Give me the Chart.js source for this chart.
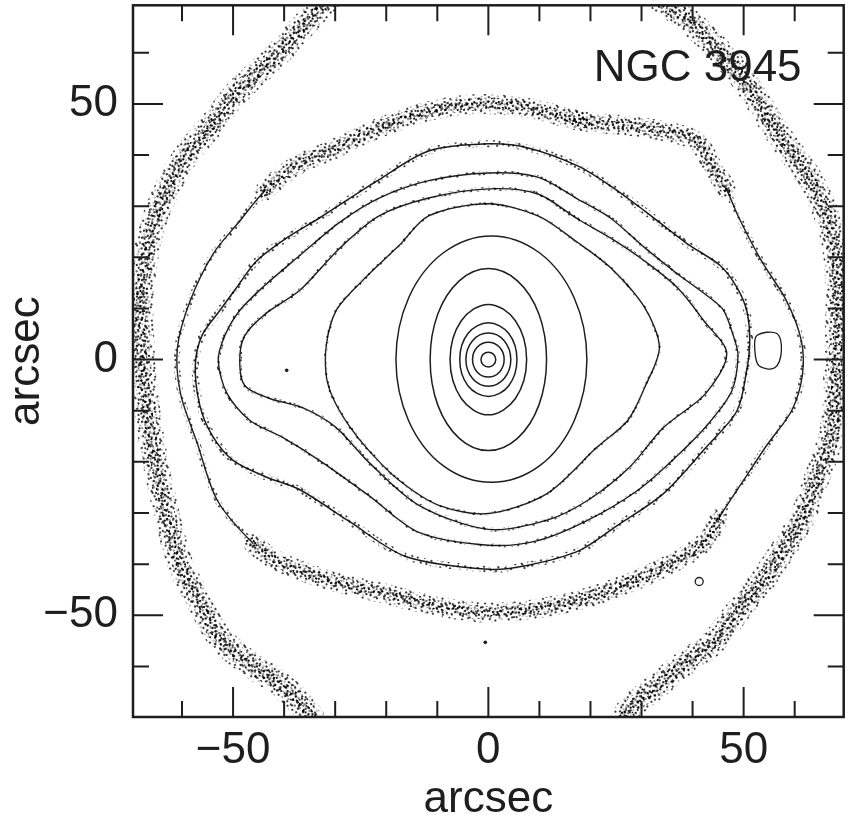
<!DOCTYPE html>
<html lang="en">
<head>
  <meta charset="UTF-8" />
  <title>NGC 3945 isophotes</title>
  <style>
    html, body { margin: 0; padding: 0; background: #fff; }
    canvas { display: block; }
  </style>
</head>
<body>
  <canvas id="isoChart" width="849" height="819"></canvas>

  <script src="https://cdn.jsdelivr.net/npm/chart.js"></script>
  <script>
    // axes, arcsec
    const xRange = [-69.6, 69.6];
    const yRange = [-69.9, 69.3];
    const labelTicks = [-50, 0, 50];
    const minorTicks = [-60, -40, -30, -20, -10, 10, 20, 30, 40, 60];

    // isophotes, [x, y] in arcsec, outer to inner
    const ringOuterLeft = [[-31, 71], [-36.5, 65], [-41.5, 59.5], [-48.5, 53], [-54.5, 45.5], [-59.5, 39.5], [-64, 31], [-66.2, 24.6], [-67.5, 18], [-68.1, 11.5], [-67.8, 0], [-66.8, -10], [-65.2, -20], [-62.8, -31], [-60.3, -40], [-56.5, -47.5], [-52.5, -54.5], [-46.7, -59.5], [-40.8, -63.5], [-36.5, -67.5], [-34, -71]];
    const ringOuterRight = [[33.1, 71], [40.9, 64.8], [46.5, 59], [50.6, 53.9], [56.8, 44.1], [63.5, 34.4], [67.4, 24.6], [68.5, 15.4], [68.5, 5.7], [68.1, -4.1], [67.4, -13.9], [64.2, -23.6], [61.3, -31.3], [57.4, -37.7], [52.9, -44.3], [48.7, -49.4], [44, -55.3], [38.7, -59.2], [32.9, -63.9], [27.6, -68.4], [26, -71]];
    const ringInner = [[17.5, 46.8], [7.8, 49.2], [-1.9, 50], [-11.7, 48.6], [-21.4, 45.3], [-31.1, 40.8], [-37, 38.3], [-43.8, 33], [-48.7, 27.1], [-53.9, 20.7], [-58.4, 11.5], [-60.9, 2.3], [-60.3, -6.6], [-57, -16.4], [-53.1, -27.5], [-46.1, -35.9], [-40.9, -39.6], [-31.1, -43.2], [-21.4, -45.5], [-11.7, -47.9], [-1.9, -49.4], [7.8, -49], [17.5, -47.1], [27.3, -43.8], [37, -39.3], [42.8, -35.4], [45.2, -30.9], [50.4, -23], [54.5, -16.8], [59.4, -10], [61.5, -3.1], [61.3, 3.7], [58.4, 11.5], [53.5, 19.3], [49.1, 27.7], [46.5, 33.6], [44, 37.5], [40.7, 42.8], [31, 45.3], [21.2, 46.3]];
    const bar1 = [[0, 42.2], [7.8, 41.4], [17.5, 37.9], [23.9, 34], [30.6, 29.1], [38.9, 22.7], [45.4, 18.4], [48.7, 14.1], [50.6, 9.6], [51.2, 3.7], [50.6, -2.1], [48.7, -10], [42.6, -17.2], [34.3, -26.2], [25.3, -32.4], [17.9, -37.3], [7.8, -40.2], [0, -41], [-16.2, -38.5], [-27.3, -31.6], [-37, -25.4], [-43.4, -23], [-50, -19.7], [-54.1, -14.8], [-56.5, -9], [-57.4, -1.2], [-56.1, 4.7], [-52.6, 9.6], [-49.3, 14.1], [-45.4, 19.3], [-39.5, 23.8], [-33.1, 27.7], [-21.4, 35.2], [-11.7, 40.8]];
    const bar2 = [[0, 36.5], [9.7, 35.7], [17.5, 31.4], [23.9, 27.7], [30.6, 21.9], [37, 16.8], [43.4, 12.1], [46.1, 9.6], [48.1, 4.3], [48.9, 0.8], [47.7, -6.1], [42.8, -12.9], [37, -18.8], [29.2, -25.6], [19.5, -31.4], [9.7, -35.4], [0, -36.3], [-13.6, -33.8], [-23.4, -26.6], [-33.1, -19.7], [-40.3, -15.2], [-46.7, -11.9], [-51.2, -6.6], [-52.9, -0.2], [-51.6, 4.7], [-48.7, 9.6], [-43.8, 14.5], [-37, 20.3], [-29.2, 26.8], [-21.4, 31.6], [-11.7, 35]];
    const bar3 = [[0, 33.4], [9.7, 32.4], [17.5, 27.5], [23.9, 23.8], [30.6, 19.3], [37, 14.1], [42.2, 7.6], [46.7, 1.2], [42.6, -6.6], [34.3, -13.3], [27.6, -21.1], [19.5, -27.5], [11.5, -31.4], [0, -33.2], [-13.6, -28.5], [-23.4, -20.1], [-29.8, -13.3], [-36.4, -9.4], [-42.8, -7.6], [-47.7, -5.1], [-48.7, -0.2], [-47.7, 4.7], [-43.6, 9], [-37, 13.5], [-29.2, 21.7], [-21.4, 28.1], [-11.7, 31.6]];
    const lens = [[0, 30.5], [9.7, 28.1], [17.5, 22.9], [23.9, 18], [30.6, 10.2], [33.5, 2.3], [30.6, -5.5], [27.3, -11.9], [21.2, -17.2], [11.5, -26.2], [0, -30.1], [-9.7, -28.5], [-17.5, -23.6], [-23.4, -17.8], [-27.3, -12.9], [-30.2, -8], [-31.7, -3.5], [-31.7, 3.1], [-29.8, 9.6], [-24.7, 15.4], [-17.5, 22.3], [-11.7, 28.1]];
    const bulge7 = [[19.3, 0], [16.8, 12.1], [10, 20.9], [0.6, 24.2], [-8.8, 20.9], [-15.6, 12.1], [-18.1, 0], [-15.6, -12], [-8.8, -20.8], [0.6, -24], [10, -20.8], [16.8, -12]];
    const bulge6 = [[11.4, 0], [9.9, 8.9], [5.7, 15.4], [0, 17.8], [-5.7, 15.4], [-9.9, 8.9], [-11.4, 0], [-9.9, -8.9], [-5.7, -15.4], [0, -17.8], [5.7, -15.4], [9.9, -8.9]];
    const bulge5 = [[7.5, 0], [5.3, 7.6], [0, 10.8], [-5.3, 7.6], [-7.5, 0], [-5.3, -7.6], [0, -10.8], [5.3, -7.6]];
    const bulge4 = [[5.6, 0], [4, 5.1], [0, 7.2], [-4, 5.1], [-5.6, 0], [-4, -5.1], [0, -7.2], [4, -5.1]];
    const bulge3 = [[4.4, 0], [3.1, 3.7], [0, 5.2], [-3.1, 3.7], [-4.4, 0], [-3.1, -3.7], [0, -5.2], [3.1, -3.7]];
    const bulge2 = [[3.1, 0], [2.2, 2.4], [0, 3.4], [-2.2, 2.4], [-3.1, 0], [-2.2, -2.4], [0, -3.4], [2.2, -2.4]];
    const bulge1 = [[1.45, 0], [1.03, 1.02], [0, 1.45], [-1.03, 1.02], [-1.45, 0], [-1.03, -1.02], [0, -1.45], [1.03, -1.02]];
    const rightKnot = [[52.6, 4.7], [56.5, 5.1], [57.4, 1.8], [56.1, -1.6], [53, -1.2], [52.2, 1.8]];
    const looseDots = [[-0.6, -55.3], [-39.5, -2.1]];
    const tinyRing = [[41.3, -43.4]];

    const ink = '#1e1e1e';
    const clear = 'rgba(0,0,0,0)';
    const fontFamily = '"Liberation Sans", Arial, sans-serif';

    // grainy texture for the noisy outer isophotes
    const speckle = [
      '#...+.....#..+....#.',
      '..#....#.......#....',
      '.....+....+..#....+.',
      '.+.#.....#.........#',
      '#.......#....+.#....',
      '....#.+.....#.......',
      '..+.......#....+..#.',
      '.#....#.+......#....',
      '.....#.....#.+....+.',
      '#..+.......#.....#..',
      '...#...+.#.....#....',
      '.+.....#......+...#.',
      '....+#.....+.#......',
      '#.........#....#.+..',
      '..#.+..#.......#....',
      '.....#....+.#.....#.',
      '.#.+...........+..#.',
      '...#..#.+..#........'
    ];
    function makePattern(rows, dark, light, cell, turn) {
      const c = document.createElement('canvas');
      c.width = rows[0].length * cell;
      c.height = rows.length * cell;
      const g = c.getContext('2d');
      rows.forEach((row, j) => {
        [...row].forEach((ch, i) => {
          if (ch === '.') return;
          const col = ch === '#' ? dark : light;
          if (col === clear) return;
          g.fillStyle = col;
          g.fillRect(i * cell, j * cell, cell, cell);
        });
      });
      const p = g.createPattern(c, 'repeat');
      if (turn && p.setTransform) p.setTransform(new DOMMatrix().rotate(turn));
      return p;
    }
    const grainDense = makePattern(speckle, 'rgba(0,0,0,0.95)', 'rgba(0,0,0,0.6)', 2, 23);
    const grainDense2 = makePattern(speckle, 'rgba(0,0,0,0.85)', 'rgba(0,0,0,0.45)', 2, 71);
    const grainSparse = makePattern(speckle, 'rgba(0,0,0,0.75)', 'rgba(0,0,0,0.25)', 2, -31);

    const toPts = pts => pts.map(([x, y]) => ({ x, y }));
    // closed curve: wrap the ends so the spline is smooth all round, then hide the extra pieces
    const wrap = pts => toPts([pts[pts.length - 1], ...pts, pts[0], pts[1]]);

    function hideEnds(extra) {
      return c => {
        const d = c.chart.data.datasets[c.datasetIndex].data;
        if (c.p0DataIndex === 0 || c.p1DataIndex === d.length - 1) return clear;
        return extra ? extra(c, d) : undefined;
      };
    }
    const isFarRow = (c, d) => Math.abs(d[c.p0DataIndex].y) > 30 && Math.abs(d[c.p1DataIndex].y) > 30;
    const bandRows = (c, d) => (isFarRow(c, d) ? undefined : clear);
    const sideRows = (c, d) => (isFarRow(c, d) ? clear : undefined);

    function loopSet(pts, color, width, tension, extra) {
      return {
        data: wrap(pts), showLine: true, pointRadius: 0, borderColor: color,
        borderWidth: width, tension: tension, clip: 0,
        borderJoinStyle: 'round', borderCapStyle: 'round',
        segment: { borderColor: hideEnds(extra) }
      };
    }
    function arcSet(pts, color, width) {
      return {
        data: toPts(pts), showLine: true, pointRadius: 0, borderColor: color,
        borderWidth: width, tension: 0.35, clip: 0, borderJoinStyle: 'round'
      };
    }

    const datasets = [
      // outer ring
      arcSet(ringOuterLeft, grainSparse, 26),
      arcSet(ringOuterRight, grainSparse, 26),
      arcSet(ringOuterLeft, grainDense2, 17),
      arcSet(ringOuterRight, grainDense2, 17),
      arcSet(ringOuterLeft, grainDense, 10),
      arcSet(ringOuterRight, grainDense, 10),
      // inner ring: grainy band on top and bottom, a line on the sides
      loopSet(ringInner, grainSparse, 20, 0.3, bandRows),
      loopSet(ringInner, grainDense2, 13, 0.3, bandRows),
      loopSet(ringInner, grainDense, 7, 0.3, bandRows),
      loopSet(ringInner, ink, 1.4, 0.3, sideRows),
      loopSet(ringInner, grainSparse, 6, 0.3, sideRows),
      loopSet(rightKnot, ink, 1.3, 0.35),
      // bar isophotes
      loopSet(bar1, grainSparse, 7, 0.3),
      loopSet(bar1, ink, 1.5, 0.3),
      loopSet(bar2, grainSparse, 4, 0.3),
      loopSet(bar2, ink, 1.4, 0.3),
      loopSet(bar3, grainSparse, 4, 0.3),
      loopSet(bar3, ink, 1.4, 0.3),
      loopSet(lens, grainSparse, 3, 0.3),
      loopSet(lens, ink, 1.4, 0.3),
      // bulge
      loopSet(bulge7, ink, 1.5, 0.36),
      loopSet(bulge6, ink, 1.5, 0.36),
      loopSet(bulge5, ink, 1.5, 0.37),
      loopSet(bulge4, ink, 1.5, 0.37),
      loopSet(bulge3, ink, 1.5, 0.37),
      loopSet(bulge2, ink, 1.5, 0.37),
      loopSet(bulge1, ink, 1.5, 0.37),
      {
        data: toPts(looseDots), pointRadius: 1.8, pointBackgroundColor: ink,
        pointBorderWidth: 0, showLine: false, clip: 0
      },
      {
        data: toPts(tinyRing), pointRadius: 4, pointBackgroundColor: clear,
        pointBorderColor: ink, pointBorderWidth: 1.3, showLine: false, clip: 0
      }
    ];

    const signed = v => (v < 0 ? '\u2212' + Math.abs(v) : String(v));

    // frame with inward ticks on all four sides, plus the galaxy name
    const framePlugin = {
      id: 'frame',
      afterDatasetsDraw(chart) {
        const { ctx, chartArea: a, scales: { x, y } } = chart;
        ctx.save();
        ctx.strokeStyle = ink;
        ctx.lineWidth = 2;
        ctx.beginPath();
        const tick = (v, len) => {
          const px = x.getPixelForValue(v);
          ctx.moveTo(px, a.bottom); ctx.lineTo(px, a.bottom - len);
          ctx.moveTo(px, a.top); ctx.lineTo(px, a.top + len);
          const py = y.getPixelForValue(v);
          ctx.moveTo(a.left, py); ctx.lineTo(a.left + len, py);
          ctx.moveTo(a.right, py); ctx.lineTo(a.right - len, py);
        };
        labelTicks.forEach(v => tick(v, 30));
        minorTicks.forEach(v => tick(v, 16));
        ctx.stroke();
        ctx.lineWidth = 2.5;
        ctx.strokeRect(a.left, a.top, a.right - a.left, a.bottom - a.top);

        ctx.fillStyle = ink;
        ctx.font = '44px ' + fontFamily;
        ctx.textBaseline = 'alphabetic';
        ctx.fillText('NGC 3945', a.right - 250, a.top + 76);
        ctx.restore();
      }
    };

    const axisFont = { family: fontFamily, size: 44 };

    new Chart(document.getElementById('isoChart'), {
      type: 'scatter',
      data: { datasets: datasets },
      options: {
        responsive: false,
        animation: false,
        devicePixelRatio: 1,
        layout: { padding: { top: 4, right: 0, left: 0, bottom: 0 } },
        plugins: { legend: { display: false }, tooltip: { enabled: false } },
        scales: {
          x: {
            type: 'linear', min: xRange[0], max: xRange[1],
            grid: { display: false, drawTicks: false },
            border: { display: false },
            afterBuildTicks: s => { s.ticks = labelTicks.map(v => ({ value: v })); },
            afterFit: s => { s.height = 102; s.paddingLeft = 0; s.paddingRight = 0; },
            ticks: { padding: 7, color: ink, font: axisFont, autoSkip: false, maxRotation: 0, callback: signed },
            title: { display: true, text: 'arcsec', color: ink, font: axisFont, padding: { top: 0, bottom: -7 } }
          },
          y: {
            type: 'linear', min: yRange[0], max: yRange[1],
            grid: { display: false, drawTicks: false },
            border: { display: false },
            afterBuildTicks: s => { s.ticks = labelTicks.map(v => ({ value: v })); },
            afterFit: s => { s.width = 133; s.paddingTop = 0; s.paddingBottom = 0; },
            ticks: { padding: 15, color: ink, font: axisFont, autoSkip: false, callback: signed },
            title: { display: true, text: 'arcsec', color: ink, font: axisFont, padding: { top: 0, bottom: 0 } }
          }
        }
      },
      plugins: [framePlugin]
    });
  </script>
</body>
</html>
